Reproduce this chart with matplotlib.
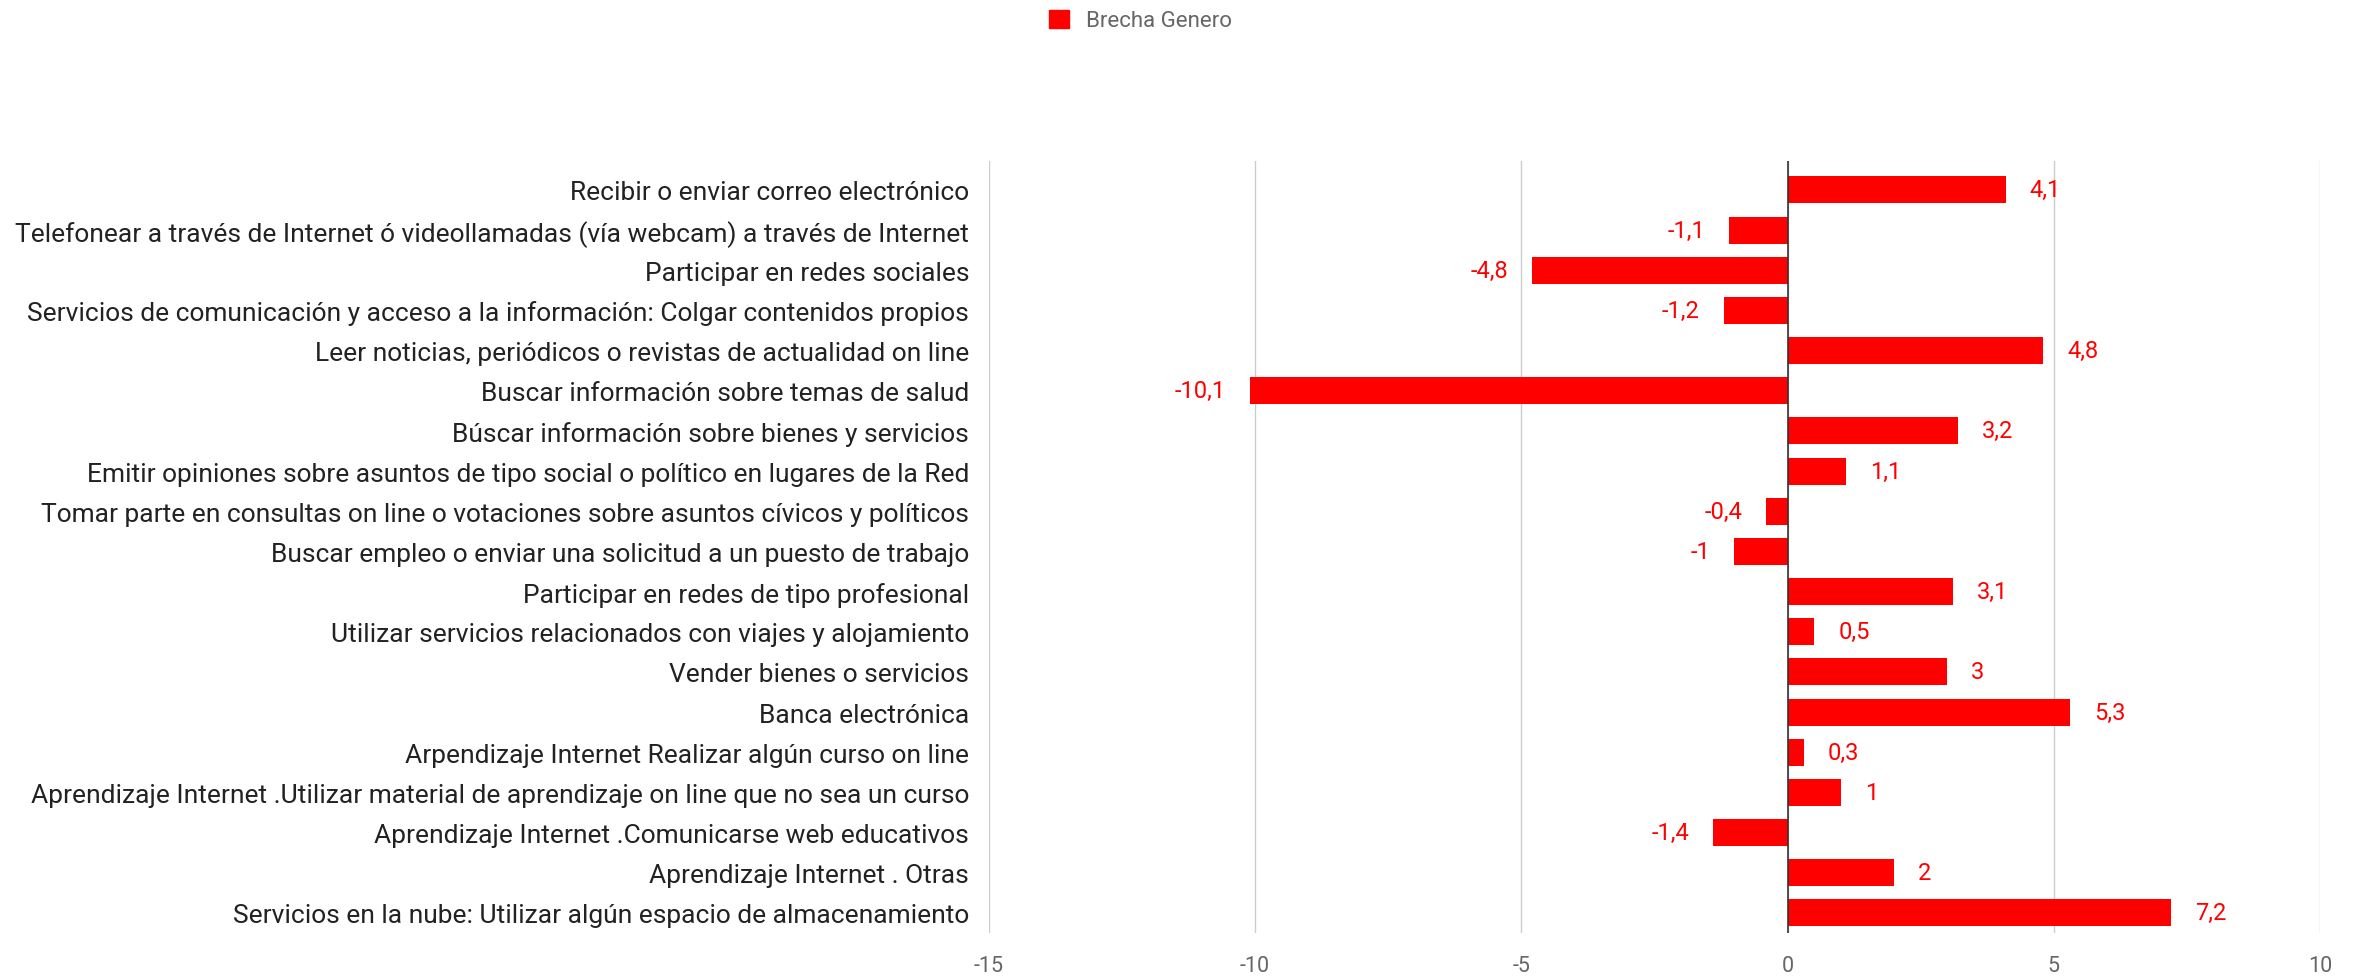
import matplotlib
matplotlib.use("Agg")
from matplotlib import pyplot as plt
from matplotlib.patches import Patch

plt.rcParams['font.family'] = ['Roboto', 'DejaVu Sans']

# datos
categorias = [
    "Recibir o enviar correo electrónico",
    "Telefonear a través de Internet ó videollamadas (vía webcam) a través de Internet",
    "Participar en redes sociales",
    "Servicios de comunicación y acceso a la información: Colgar contenidos propios",
    "Leer noticias, periódicos o revistas de actualidad on line",
    "Buscar información sobre temas de salud",
    "Búscar información sobre bienes y servicios",
    "Emitir opiniones sobre asuntos de tipo social o político en lugares de la Red",
    "Tomar parte en consultas on line o votaciones sobre asuntos cívicos y políticos",
    "Buscar empleo o enviar una solicitud a un puesto de trabajo",
    "Participar en redes de tipo profesional",
    "Utilizar servicios relacionados con viajes y alojamiento",
    "Vender bienes o servicios",
    "Banca electrónica",
    "Arpendizaje Internet Realizar algún curso on line",
    "Aprendizaje Internet .Utilizar material de aprendizaje on line que no sea un curso",
    "Aprendizaje Internet .Comunicarse web educativos",
    "Aprendizaje Internet . Otras",
    "Servicios en la nube: Utilizar algún espacio de almacenamiento",
]
brecha = [4.1, -1.1, -4.8, -1.2, 4.8, -10.1, 3.2, 1.1, -0.4, -1,
          3.1, 0.5, 3, 5.3, 0.3, 1, -1.4, 2, 7.2]
x_ticks = [-15, -10, -5, 0, 5, 10]

rojo = '#ff0000'

fig = plt.figure(figsize=(23.54, 9.79), dpi=100)
ax = fig.add_axes([0.420, 0.046, 0.5656, 0.7885])

y = list(range(len(categorias)))
ax.barh(y, brecha, height=0.67, color=rojo, zorder=3)

for yi, v in zip(y, brecha):
    txt = ("%g" % v).replace('.', ',')
    off = 0.45 if v >= 0 else -0.45
    ax.text(v + off, yi, txt, color=rojo, fontsize=17,
            ha='left' if v >= 0 else 'right', va='center')

ax.set_xlim(-15, 10)
ax.set_ylim(len(categorias) - 0.5, -0.72)
ax.set_xticks(x_ticks)
ax.set_xticklabels([str(t) for t in x_ticks], color='#666666', fontsize=15.5)
ax.set_yticks(y)
ax.set_yticklabels(categorias, color='#222222', fontsize=19)
ax.tick_params(length=0, pad=14)
ax.tick_params(axis='x', pad=16)
ax.grid(axis='x', color='#cccccc', linewidth=1, zorder=0)
ax.axvline(0, color='#333333', linewidth=1.2, zorder=4)
for s in ax.spines.values():
    s.set_visible(False)

fig.legend(handles=[Patch(color=rojo, label='Brecha Genero')],
           loc='center', bbox_to_anchor=(0.4845, 0.978), frameon=False,
           fontsize=16, labelcolor='#666666', handlelength=0.9,
           handleheight=0.9, handletextpad=0.8)

fig.savefig('out.png', dpi=100)
